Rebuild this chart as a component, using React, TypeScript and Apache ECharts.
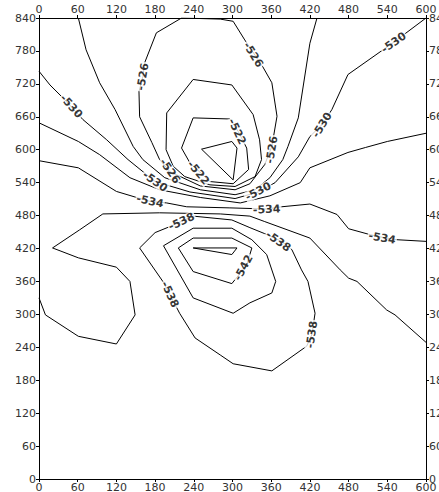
import React, { useEffect, useRef } from "react";
import * as echarts from "echarts";

// Axis ranges and tick spacing
const xMin = 0;
const xMax = 600;
const xStep = 60;
const yMin = 0;
const yMax = 840;
const yStep = 60;

// Contour polylines, one list of [x, y] vertices per level
const c520 = [[252, 601], [299, 615], [307, 603], [301, 545], [252, 601]];
const c522 = [[239, 658], [296, 656], [309, 633], [322, 603], [325, 564], [301, 538], [265, 542], [234, 576], [221, 603], [239, 658]];
const c524 = [[239, 728], [299, 718], [332, 664], [342, 618], [345, 582], [335, 551], [304, 533], [265, 536], [226, 551], [208, 570], [197, 600], [198, 667], [239, 728]];
const c526 = [[221, 840], [182, 813], [164, 759], [161, 733], [155, 706], [156, 660], [175, 613], [187, 582], [203, 560], [250, 534], [304, 527], [327, 538], [350, 573], [361, 606], [369, 661], [361, 722], [347, 751], [319, 800], [301, 834], [281, 838], [221, 840]];
const c528 = [[61, 840], [73, 782], [94, 722], [118, 673], [146, 606], [161, 582], [195, 549], [250, 527], [304, 518], [335, 527], [358, 549], [378, 582], [386, 606], [402, 658], [420, 794], [431, 840]];
const c530 = [[0, 743], [17, 718], [40, 691], [68, 655], [105, 618], [138, 582], [180, 542], [234, 523], [304, 511], [340, 523], [366, 540], [402, 587], [420, 624], [439, 646], [454, 673], [479, 737], [549, 795], [600, 840]];
const c532 = [[0, 649], [61, 615], [94, 591], [141, 549], [187, 527], [250, 513], [312, 503], [358, 516], [405, 540], [420, 567], [479, 595], [506, 604], [540, 615], [600, 630]];
const c534 = [[0, 580], [61, 567], [120, 524], [154, 512], [172, 506], [198, 503], [229, 496], [296, 494], [353, 492], [376, 496], [420, 501], [462, 482], [480, 456], [514, 445], [534, 440], [555, 436], [600, 433]];
const c536 = [[0, 330], [10, 299], [61, 260], [120, 246], [149, 299], [141, 360], [120, 386], [61, 403], [21, 421], [63, 454], [99, 483], [187, 485], [281, 483], [327, 479], [350, 469], [420, 439], [467, 381], [480, 366], [493, 360], [539, 308], [552, 299], [600, 249]];
const c538 = [[239, 479], [299, 472], [327, 458], [350, 447], [376, 433], [392, 418], [407, 381], [417, 360], [428, 302], [423, 263], [415, 242], [361, 197], [301, 210], [281, 226], [242, 257], [218, 302], [203, 336], [192, 360], [156, 421], [180, 449], [203, 460], [239, 479]];
const c540 = [[193, 425], [239, 457], [299, 457], [330, 436], [353, 409], [367, 360], [361, 339], [327, 321], [301, 302], [239, 330], [193, 425]];
const c542 = [[216, 421], [239, 439], [299, 439], [330, 421], [322, 390], [299, 356], [239, 378], [216, 421]];
const c544 = [[239, 421], [307, 421], [299, 409], [239, 421]];

const contourLines = [c520, c522, c524, c526, c528, c530, c532, c534, c536, c538, c540, c542, c544];

// Contour labels: anchor point on the line and the level it names
const labelPoints = [
  [50, 679], [161, 733], [332, 773], [550, 795], [439, 645], [307, 633],
  [361, 600], [203, 561], [180, 542], [247, 558], [340, 524], [172, 506],
  [353, 491], [532, 439], [221, 469], [371, 433], [317, 385], [203, 336], [423, 263],
];
const labelLevels = [
  -530, -526, -526, -530, -530, -522,
  -526, -526, -530, -522, -530, -534,
  -534, -534, -538, -538, -542, -538, -538,
];
// Text angle of each label, following its line
const labelAngles = [
  -48, 80, -58, 35, 58, -65,
  80, -55, -35, -50, 28, -12,
  3, -10, 25, -35, 62, -65, 82,
];

export default function App() {
  const ref = useRef<HTMLDivElement>(null);

  useEffect(() => {
    if (!ref.current) return;
    const chart = echarts.init(ref.current, undefined, { renderer: "svg" });

    const axisLabelStyle = {
      fontFamily: "DejaVu Sans",
      fontSize: 11,
      color: "#333",
    };

    const xAxisBase = {
      type: "value" as const,
      min: xMin,
      max: xMax,
      interval: xStep,
      splitLine: { show: false },
      axisLine: { show: true, onZero: false, lineStyle: { color: "#000", width: 1 } },
      axisTick: { show: true, length: 3, lineStyle: { color: "#000" } },
      axisLabel: { ...axisLabelStyle, margin: 3 },
    };
    const yAxisBase = {
      type: "value" as const,
      min: yMin,
      max: yMax,
      interval: yStep,
      splitLine: { show: false },
      axisLine: { show: true, onZero: false, lineStyle: { color: "#000", width: 1 } },
      axisTick: { show: true, length: 3, lineStyle: { color: "#000" } },
      axisLabel: { ...axisLabelStyle, margin: 3 },
    };

    const lineSeries = contourLines.map((pts, i) => ({
      type: "line" as const,
      name: "c" + i,
      data: pts,
      xAxisIndex: 0,
      yAxisIndex: 0,
      symbol: "none",
      smooth: false,
      silent: true,
      z: 2,
      lineStyle: { color: "#000", width: 1 },
    }));

    const labelSeries = {
      type: "scatter" as const,
      xAxisIndex: 0,
      yAxisIndex: 0,
      symbolSize: 0,
      silent: true,
      z: 10,
      data: labelPoints.map((p, i) => ({
        value: p,
        label: { rotate: labelAngles[i], formatter: String(labelLevels[i]) },
      })),
      label: {
        show: true,
        position: "inside",
        fontFamily: "DejaVu Sans",
        fontWeight: "bold",
        fontSize: 11,
        color: "#000",
        backgroundColor: "#fff",
        padding: [0, 1],
      },
    };

    chart.setOption({
      animation: false,
      backgroundColor: "#fff",
      grid: {
        left: 39,
        right: 13,
        top: 18,
        bottom: 13,
        containLabel: false,
        outerBoundsMode: "none",
      },
      xAxis: [
        { ...xAxisBase, position: "bottom" },
        { ...xAxisBase, position: "top" },
      ],
      yAxis: [
        { ...yAxisBase, position: "left" },
        { ...yAxisBase, position: "right" },
      ],
      series: [...lineSeries, labelSeries],
    });

    return () => chart.dispose();
  }, []);

  return (
    <div
      ref={ref}
      style={{ position: "fixed", left: 0, top: 0, width: 439, height: 492 }}
    />
  );
}
